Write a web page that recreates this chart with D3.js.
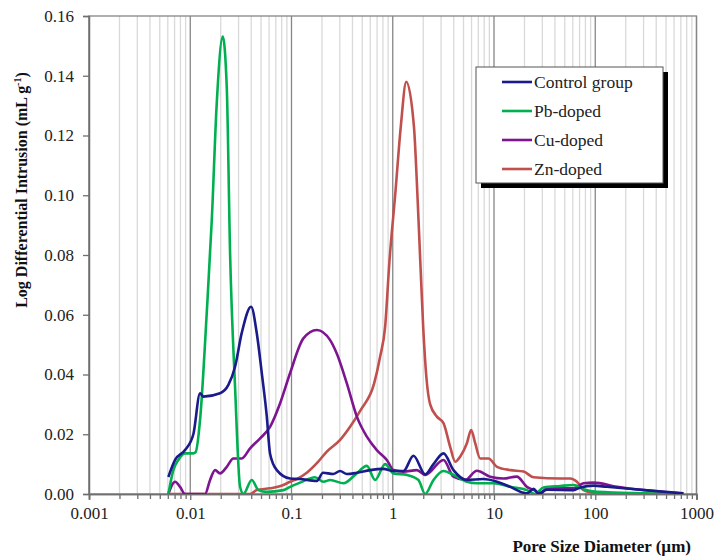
<!DOCTYPE html>
<html><head><meta charset="utf-8">
<script src="https://cdn.jsdelivr.net/npm/d3@7"></script>
<style>body{margin:0;background:#fff;} svg{display:block;}</style>
</head><body>
<svg id="chart" width="718" height="560"></svg>
<script>
// ---- data (pore diameter in µm, log differential intrusion in mL/g) ----
const seriesNames = ["Control group", "Pb-doped", "Cu-doped", "Zn-doped"];
const seriesColors = ["#1a1a8a", "#00b050", "#7e1590", "#c0504d"];

const controlD = [0.00608,0.00708,0.00888,0.01073,0.0125,0.01347,0.0197,0.0238,0.0277,0.0323,0.0399,0.0454,0.0509,0.0570,0.0614,0.0716,0.0969,0.1216,0.178,0.205,0.258,0.302,0.352,0.442,0.598,0.809,1.016,1.276,1.602,2.09,2.525,3.17,3.98,5.40,7.87,10.7,14.5,19.6,21.1,24.6,27.5,33.3,61.1,71.1,96.2,130,190,746];
const controlV = [0.0057,0.0114,0.0147,0.0200,0.0337,0.0326,0.0337,0.0365,0.0426,0.0540,0.0627,0.0538,0.0404,0.0260,0.0135,0.0080,0.0052,0.0050,0.0044,0.0071,0.0067,0.0077,0.0067,0.0071,0.0080,0.0084,0.0077,0.0077,0.0128,0.0066,0.0100,0.0136,0.0080,0.0047,0.0050,0.0041,0.0024,0.0004,0.0002,0.0017,0.0002,0.0014,0.0013,0.0022,0.0028,0.0024,0.0019,0.0002];

const pbD = [0.00608,0.00681,0.00763,0.00888,0.0107,0.0113,0.0125,0.01455,0.01632,0.01828,0.02095,0.02295,0.02474,0.0277,0.03105,0.03347,0.0405,0.0471,0.057,0.0832,0.0969,0.1216,0.171,0.2067,0.2407,0.326,0.425,0.555,0.670,0.841,1.016,1.378,1.795,2.09,2.525,3.17,3.98,5.40,6.78,9.89,14.5,21.1,25.5,30.8,45.1,61.1,76.6,104,692];
const pbV = [0.0,0.0080,0.0114,0.0136,0.0136,0.0140,0.0248,0.0606,0.0917,0.1310,0.1531,0.1360,0.0806,0.0359,0.0024,0.0,0.0047,0.0013,0.0007,0.0013,0.0024,0.0038,0.0056,0.0041,0.0047,0.0036,0.0064,0.0094,0.0047,0.0100,0.0069,0.0064,0.0047,0.0,0.0047,0.0077,0.0064,0.0041,0.0036,0.0036,0.0024,0.0013,0.0,0.0022,0.0027,0.0030,0.0016,0.0007,0.0];

const cuD = [0.00608,0.00708,0.00793,0.00888,0.0140,0.0157,0.01759,0.0197,0.02295,0.02667,0.0323,0.0390,0.0490,0.0614,0.0772,0.0969,0.1311,0.178,0.2407,0.280,0.352,0.442,0.555,0.696,0.874,1.016,1.276,1.73,2.09,3.17,3.98,5.19,6.78,9.17,12.4,16.8,21.1,25.5,28.6,33.3,61.1,76.6,96.2,164,692];
const cuV = [0.0,0.0041,0.0024,0.0,0.0,0.0047,0.0080,0.0069,0.0091,0.0119,0.0119,0.0153,0.0186,0.0225,0.0304,0.0405,0.0521,0.0549,0.0515,0.0470,0.0370,0.0259,0.0192,0.0147,0.0114,0.0080,0.0075,0.0080,0.0064,0.0114,0.0058,0.0047,0.0078,0.0058,0.0052,0.0058,0.0024,0.0011,0.0,0.0019,0.0019,0.0036,0.0038,0.0024,0.0002];

const znD = [0.00608,0.0390,0.0454,0.0614,0.0832,0.0969,0.1128,0.1416,0.178,0.2233,0.302,0.379,0.48,0.655,0.751,0.841,0.928,1.06,1.2,1.36,1.62,1.75,1.87,2.0,2.15,2.342,2.728,3.17,3.69,4.14,4.63,5.40,5.95,6.52,7.31,8.83,10.7,14.5,19.6,24.6,45.1,56.6,65.9,76.6,96.2,692];
const znV = [0.0,0.0,0.0013,0.0019,0.0030,0.0041,0.0050,0.0071,0.0103,0.0142,0.0181,0.0225,0.0280,0.0370,0.0460,0.0560,0.0780,0.1006,0.1229,0.1380,0.1229,0.1006,0.0780,0.0556,0.0390,0.0300,0.0259,0.0237,0.0158,0.0108,0.0125,0.0170,0.0214,0.0170,0.0119,0.0119,0.0091,0.0080,0.0075,0.0056,0.0052,0.0052,0.0041,0.0013,0.0004,0.0];

const xTickValues = [0.001, 0.01, 0.1, 1, 10, 100, 1000];
const xTickLabels = ["0.001", "0.01", "0.1", "1", "10", "100", "1000"];
const yTickValues = [0, 0.02, 0.04, 0.06, 0.08, 0.10, 0.12, 0.14, 0.16];

// ---- layout ----
const svg = d3.select("#chart");
const L = 89, T = 16, R = 696.5, B = 494;
const x = d3.scaleLog().domain([0.001, 1000]).range([L, R]);
const y = d3.scaleLinear().domain([0, 0.16]).range([B, T]);
const serif = "'Liberation Serif','Times New Roman',Times,serif";

// minor & major vertical grid
const minorVals = [];
for (let e = -3; e < 3; e++) for (let m = 2; m <= 9; m++) minorVals.push(m * Math.pow(10, e));
svg.append("g").selectAll("line").data(minorVals).join("line")
  .attr("x1", d => x(d)).attr("x2", d => x(d)).attr("y1", T).attr("y2", B)
  .attr("stroke", "#d9d9d9").attr("stroke-width", 1.3);
svg.append("g").selectAll("line").data(xTickValues).join("line")
  .attr("x1", d => x(d)).attr("x2", d => x(d)).attr("y1", T).attr("y2", B)
  .attr("stroke", "#868686").attr("stroke-width", 1.3);

// frame
svg.append("rect").attr("x", L).attr("y", T).attr("width", R - L).attr("height", B - T)
  .attr("fill", "none").attr("stroke", "#868686").attr("stroke-width", 1.3);

// axes
const xAxis = svg.append("g").attr("transform", `translate(0,${B})`)
  .call(d3.axisBottom(x).tickValues(xTickValues).tickFormat((d, i) => xTickLabels[i]).tickSize(6).tickPadding(7));
const xMinor = svg.append("g").attr("transform", `translate(0,${B})`)
  .call(d3.axisBottom(x).tickValues(minorVals).tickFormat("").tickSize(5));
const yAxis = svg.append("g").attr("transform", `translate(${L},0)`)
  .call(d3.axisLeft(y).tickValues(yTickValues).tickFormat(d3.format(".2f")).tickSize(6).tickPadding(9));
[xAxis, xMinor, yAxis].forEach(g => {
  g.select(".domain").attr("stroke", "#6f6f6f").attr("stroke-width", 1.5);
  g.selectAll(".tick line").attr("stroke", "#6f6f6f").attr("stroke-width", 1.3);
  g.selectAll("text").attr("font-family", serif).attr("font-size", 17).attr("fill", "#222");
});

// lines
const clip = svg.append("clipPath").attr("id", "clip").append("rect")
  .attr("x", L).attr("y", T - 5).attr("width", R - L).attr("height", B - T + 5);
const allD = [controlD, pbD, cuD, znD];
const allV = [controlV, pbV, cuV, znV];
const line = d3.line().x(d => x(d[0])).y(d => y(d[1])).curve(d3.curveMonotoneX);
const drawOrder = [3, 2, 1, 0];
svg.append("g").attr("clip-path", "url(#clip)").selectAll("path").data(drawOrder).join("path")
  .attr("d", i => line(d3.zip(allD[i], allV[i])))
  .attr("fill", "none").attr("stroke", i => seriesColors[i])
  .attr("stroke-width", 2.6).attr("stroke-linejoin", "round");

// axis titles
const yt = svg.append("text").attr("transform", "translate(27,190) rotate(-90)")
  .attr("text-anchor", "middle").attr("font-family", serif).attr("font-weight", "bold")
  .attr("font-size", 16).attr("fill", "#111");
yt.append("tspan").text("Log Differential Intrusion (mL g");
yt.append("tspan").text("-1").attr("font-size", 10).attr("dy", -6);
yt.append("tspan").text(")").attr("dy", 6);

svg.append("text").attr("x", 691).attr("y", 552).attr("text-anchor", "end")
  .attr("font-family", serif).attr("font-weight", "bold").attr("font-size", 17).attr("fill", "#111")
  .text("Pore Size Diameter (\u00b5m)");

// legend
const lg = svg.append("g");
lg.append("rect").attr("x", 481).attr("y", 72).attr("width", 187).attr("height", 116).attr("fill", "#000");
lg.append("rect").attr("x", 476).attr("y", 67).attr("width", 187).attr("height", 116)
  .attr("fill", "#fff").attr("stroke", "#555").attr("stroke-width", 1);
const items = lg.selectAll("g.it").data(seriesNames).join("g").attr("class", "it")
  .attr("transform", (d, i) => `translate(0,${82 + i * 29})`);
items.append("line").attr("x1", 502).attr("x2", 532).attr("y1", 0).attr("y2", 0)
  .attr("stroke", (d, i) => seriesColors[i]).attr("stroke-width", 2.6);
items.append("text").attr("x", 534).attr("y", 6).attr("font-family", serif).attr("font-size", 17.5)
  .attr("fill", "#222").text(d => d);
</script>
</body></html>
